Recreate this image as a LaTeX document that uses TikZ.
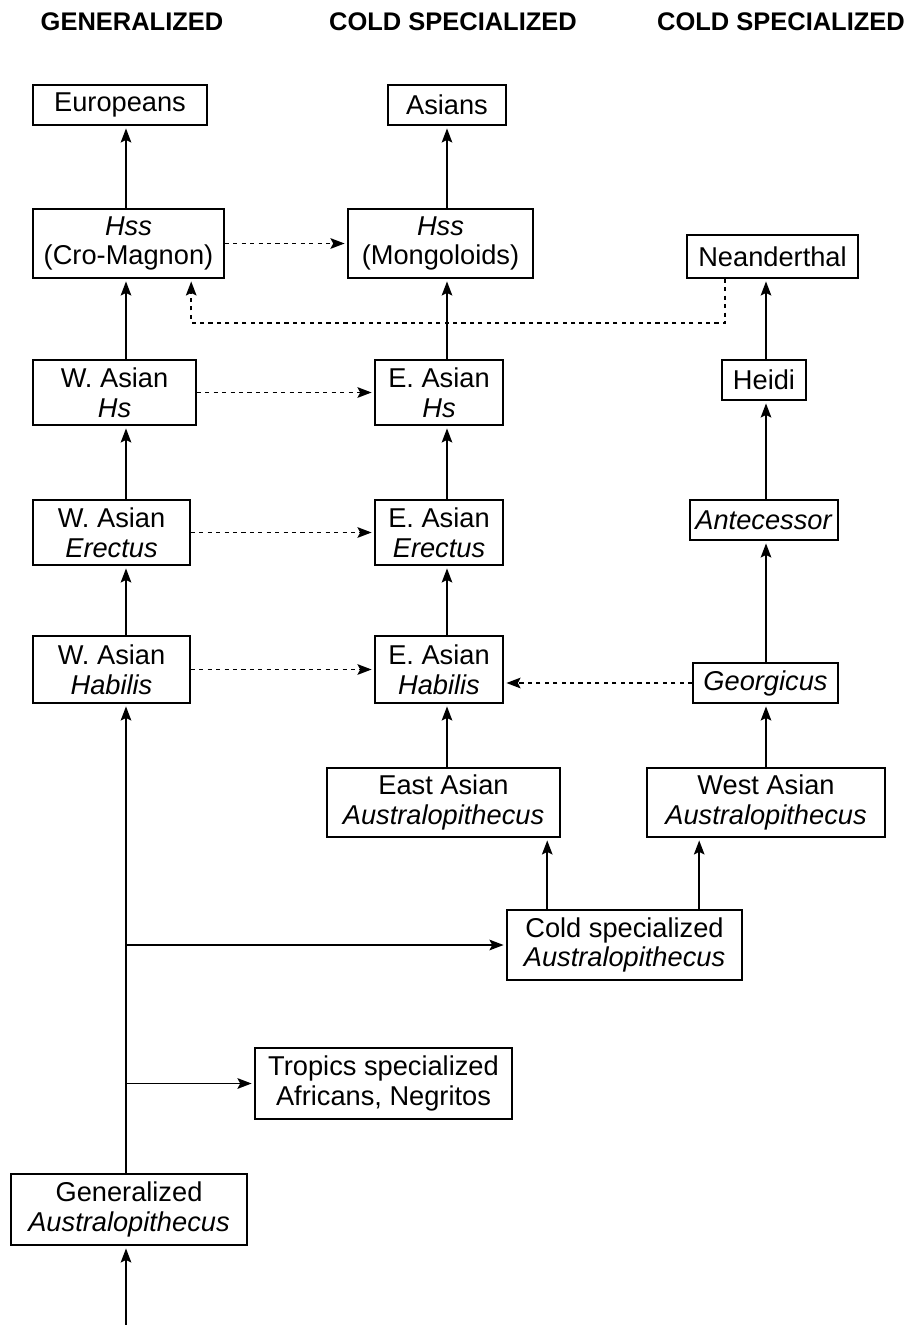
\documentclass[tikz,border=0pt]{standalone}
\usepackage{fontspec}
\setmainfont{Liberation Sans}
\usetikzlibrary{arrows.meta,calc}
\begin{document}
\begin{tikzpicture}[x=0.02cm,y=-0.02cm,
  every node/.style={font=\fontsize{15.5pt}{17pt}\selectfont},
  box/.style={draw,line width=0.9pt,inner sep=1pt,align=center,minimum height=0.8cm},
  tall/.style={minimum height=1.38cm},
  hdr/.style={font=\fontsize{14.5pt}{16pt}\selectfont\bfseries},
  arr/.style={line width=1.1pt,-{Stealth[length=8pt,width=6pt,inset=1.5pt]},shorten >=1.5pt},
  darr/.style={arr,dash pattern=on 2.4pt off 2.4pt}]
\useasboundingbox (0,0) rectangle (916,1325);
% Three lineages: generalized and two cold specialized columns
\node[hdr] (h1) at (132,22) {GENERALIZED};
\node[hdr] (h2) at (453,22) {COLD SPECIALIZED};
\node[hdr] (h3) at (781,22) {COLD SPECIALIZED};
\coordinate (root) at (126,1325);
\node[box,minimum width=3.48cm] (eur) at (120,105) {Europeans};
\node[box,minimum width=2.36cm] (asi) at (447,105) {Asians};
\node[box,tall,minimum width=3.82cm] (cro) at (128.5,243.5) {\textit{Hss}\\(Cro-Magnon)};
\node[box,tall,minimum width=3.7cm] (mon) at (440.5,243.5) {\textit{Hss}\\(Mongoloids)};
\node[box,minimum width=3.42cm,minimum height=0.86cm] (nea) at (772.5,256.5) {Neanderthal};
\node[box,tall,minimum width=3.26cm,minimum height=1.3cm] (whs) at (114.5,392.5) {W. Asian\\\textit{Hs}};
\node[box,tall,minimum width=2.56cm,minimum height=1.3cm] (ehs) at (439,392.5) {E. Asian\\\textit{Hs}};
\node[box,minimum width=1.68cm] (hei) at (764,380) {Heidi};
\node[box,tall,minimum width=3.14cm,minimum height=1.3cm] (wer) at (111.5,532.5) {W. Asian\\\textit{Erectus}};
\node[box,tall,minimum width=2.56cm,minimum height=1.3cm] (eer) at (439,532.5) {E. Asian\\\textit{Erectus}};
\node[box,minimum width=2.96cm] (ant) at (764,520) {\textit{Antecessor}};
\node[box,tall,minimum width=3.14cm,minimum height=1.34cm] (wha) at (111.5,669.5) {W. Asian\\\textit{Habilis}};
\node[box,tall,minimum width=2.56cm,minimum height=1.34cm] (eha) at (439,669.5) {E. Asian\\\textit{Habilis}};
\node[box,minimum width=2.9cm] (geo) at (765.5,683) {\textit{Georgicus}};
\node[box,tall,minimum width=4.66cm] (eau) at (443.5,802.5) {East Asian\\\textit{Australopithecus}};
\node[box,tall,minimum width=4.76cm] (wau) at (766,802.5) {West Asian\\\textit{Australopithecus}};
\node[box,tall,minimum width=4.7cm,minimum height=1.4cm] (col) at (624.5,945) {Cold specialized\\\textit{Australopithecus}};
\node[box,tall,minimum width=5.14cm,minimum height=1.42cm] (tro) at (383.5,1083.5) {Tropics specialized\\Africans, Negritos};
\node[box,tall,minimum width=4.72cm,minimum height=1.42cm] (gen) at (129,1209.5) {Generalized\\\textit{Australopithecus}};
% generalized column
\draw[arr] (root) -- (gen.south -| root);
\draw[arr] (gen.north -| root) -- (wha.south -| root);
\draw[arr] (wha.north -| root) -- (wer.south -| root);
\draw[arr] (wer.north -| root) -- (whs.south -| root);
\draw[arr] (whs.north -| root) -- (cro.south -| root);
\draw[arr] (cro.north -| root) -- (eur.south -| root);
\draw[arr] (col.west -| root) -- (col.west);
\draw[arr] (tro.west -| root) -- (tro.west);
% cold specialized columns
\draw[arr] ([xshift=0.82cm]col.north west) -- ([xshift=0.82cm]col.north west |- eau.south);
\draw[arr] ([xshift=3.86cm]col.north west) -- ([xshift=3.86cm]col.north west |- wau.south);
\draw[arr] (eau.north -| asi) -- (eha.south -| asi);
\draw[arr] (eha.north -| asi) -- (eer.south -| asi);
\draw[arr] (eer.north -| asi) -- (ehs.south -| asi);
\draw[arr] (ehs.north -| asi) -- (mon.south -| asi);
\draw[arr] (mon.north -| asi) -- (asi.south);
\draw[arr] (wau.north) -- (geo.south -| wau.north);
\draw[arr] (geo.north -| wau.north) -- (ant.south -| wau.north);
\draw[arr] (ant.north -| wau.north) -- (hei.south -| wau.north);
\draw[arr] (hei.north -| wau.north) -- (nea.south -| wau.north);
% migrations
\draw[darr] (cro.east) -- (mon.west);
\draw[darr] (whs.east) -- (ehs.west);
\draw[darr] (wer.east) -- (eer.west);
\draw[darr] (wha.east) -- (eha.west);
\draw[darr] (geo.west) -- (geo.west -| eha.east);
\draw[darr] ([xshift=0.78cm]nea.south west) -- ++(0,44) -| ([xshift=3.18cm]cro.south west);
\end{tikzpicture}
\end{document}
